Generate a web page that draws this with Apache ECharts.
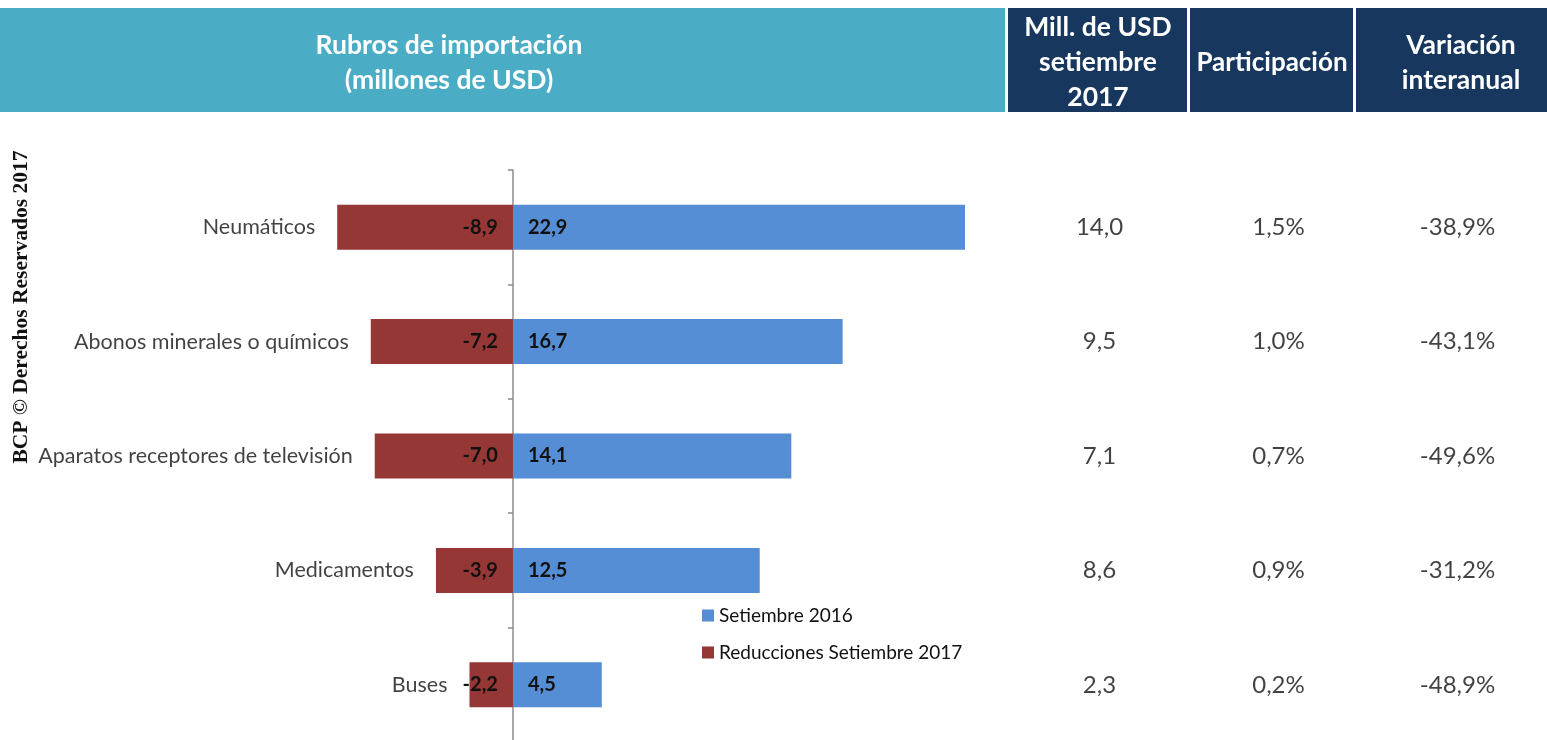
<!DOCTYPE html>
<html><head><meta charset="utf-8">
<script src="https://cdn.jsdelivr.net/npm/echarts@6/dist/echarts.min.js"></script>
<style>html,body{margin:0;padding:0;background:#fff}#c{width:1547px;height:740px}</style>
</head><body><div id="c"></div>
<script>
const categories = ['Neumáticos','Abonos minerales o químicos','Aparatos receptores de televisión','Medicamentos','Buses'];
const setiembre2016 = [22.9, 16.7, 14.1, 12.5, 4.5];
const reducciones2017 = [-8.9, -7.2, -7.0, -3.9, -2.2];
const millUSD2017 = ['14,0','9,5','7,1','8,6','2,3'];
const participacion = ['1,5%','1,0%','0,7%','0,9%','0,2%'];
const variacion = ['-38,9%','-43,1%','-49,6%','-31,2%','-48,9%'];
const tableCols = ['mill','part','var'];
const seriesNames = ['Setiembre 2016','Reducciones Setiembre 2017'];

const FONT = 'Lato';
const fmt = v => v.toFixed(1).replace('.', ',');
const chart = echarts.init(document.getElementById('c'));

function tableSeries(col, vals){
  return {
    type:'scatter', xAxisIndex:1, yAxisIndex:1, symbolSize:0, silent:true,
    data: categories.map((c,i)=>[col, c, vals[i]]),
    label:{show:true, position:'inside', formatter:p=>p.data[2], color:'#111', fontSize:24, fontFamily:FONT}
  };
}
const HF = 'bold 26.5px Lato';

chart.setOption({
  animation:false,
  textStyle:{fontFamily:FONT},
  graphic:[
    {type:'rect', shape:{x:0,y:8,width:1005,height:104}, style:{fill:'#4BACC6'}},
    {type:'rect', shape:{x:1008,y:8,width:179,height:104}, style:{fill:'#17375E'}},
    {type:'rect', shape:{x:1190,y:8,width:163,height:104}, style:{fill:'#17375E'}},
    {type:'rect', shape:{x:1356,y:8,width:191,height:104}, style:{fill:'#17375E'}},
    {type:'text', x:449, y:63, style:{text:'Rubros de importación\n(millones de USD)', fill:'#fff', font:HF, align:'center', verticalAlign:'middle', lineHeight:35}},
    {type:'text', x:1098, y:62, style:{text:'Mill. de USD\nsetiembre\n2017', fill:'#fff', font:HF, align:'center', verticalAlign:'middle', lineHeight:35}},
    {type:'text', x:1272, y:63, style:{text:'Participación', fill:'#fff', font:'bold 26px Lato', align:'center', verticalAlign:'middle'}},
    {type:'text', x:1461, y:63, style:{text:'Variación\ninteranual', fill:'#fff', font:HF, align:'center', verticalAlign:'middle', lineHeight:35}},
    {type:'text', x:21, y:307, rotation:Math.PI/2, style:{text:'BCP © Derechos Reservados 2017', fill:'#111', font:'bold 21.5px "Liberation Serif"', align:'center', verticalAlign:'middle'}}
  ],
  legend:{
    data:seriesNames, orient:'vertical', left:697, top:601, itemWidth:12, itemHeight:12, itemGap:18,
    icon:'rect', textStyle:{fontSize:19, color:'#111', fontFamily:FONT}
  },
  grid:[
    {left:315.5, width:691, top:170, height:572, outerBoundsMode:'none'},
    {left:1010, right:0, top:170, height:572, outerBoundsMode:'none'}
  ],
  xAxis:[
    {type:'value', gridIndex:0, min:-10, max:25, show:false},
    {type:'category', gridIndex:1, data:tableCols, show:false}
  ],
  yAxis:[
    {type:'category', gridIndex:0, data:categories, inverse:true,
     axisLine:{lineStyle:{color:'#8c8c8c', width:1.5}},
     axisTick:{show:true, inside:false, length:5, lineStyle:{color:'#8c8c8c', width:1.5}},
     axisLabel:{show:false}},
    {type:'category', gridIndex:1, data:categories, inverse:true, show:false}
  ],
  series:[
    {name:seriesNames[0], type:'bar', data:setiembre2016, barWidth:45, barGap:'-100%',
     itemStyle:{color:'#558ED5'},
     label:{show:true, position:'insideLeft', distance:15, formatter:p=>fmt(p.value), color:'#111', fontWeight:'bold', fontSize:20, fontFamily:FONT}},
    {name:seriesNames[1], type:'bar', data:reducciones2017, barWidth:45, barGap:'-100%',
     itemStyle:{color:'#953735'},
     label:{show:true, position:'insideRight', distance:15, formatter:p=>fmt(p.value), color:'#111', fontWeight:'bold', fontSize:20, fontFamily:FONT}},
    {type:'scatter', symbolSize:0, silent:true,
     data:categories.map((c,i)=>[reducciones2017[i], c]),
     label:{show:true, position:'left', distance:22, formatter:p=>p.data[1], color:'#111', fontSize:21.5, fontFamily:FONT}},
    tableSeries('mill', millUSD2017),
    tableSeries('part', participacion),
    tableSeries('var', variacion)
  ]
});
</script></body></html>
